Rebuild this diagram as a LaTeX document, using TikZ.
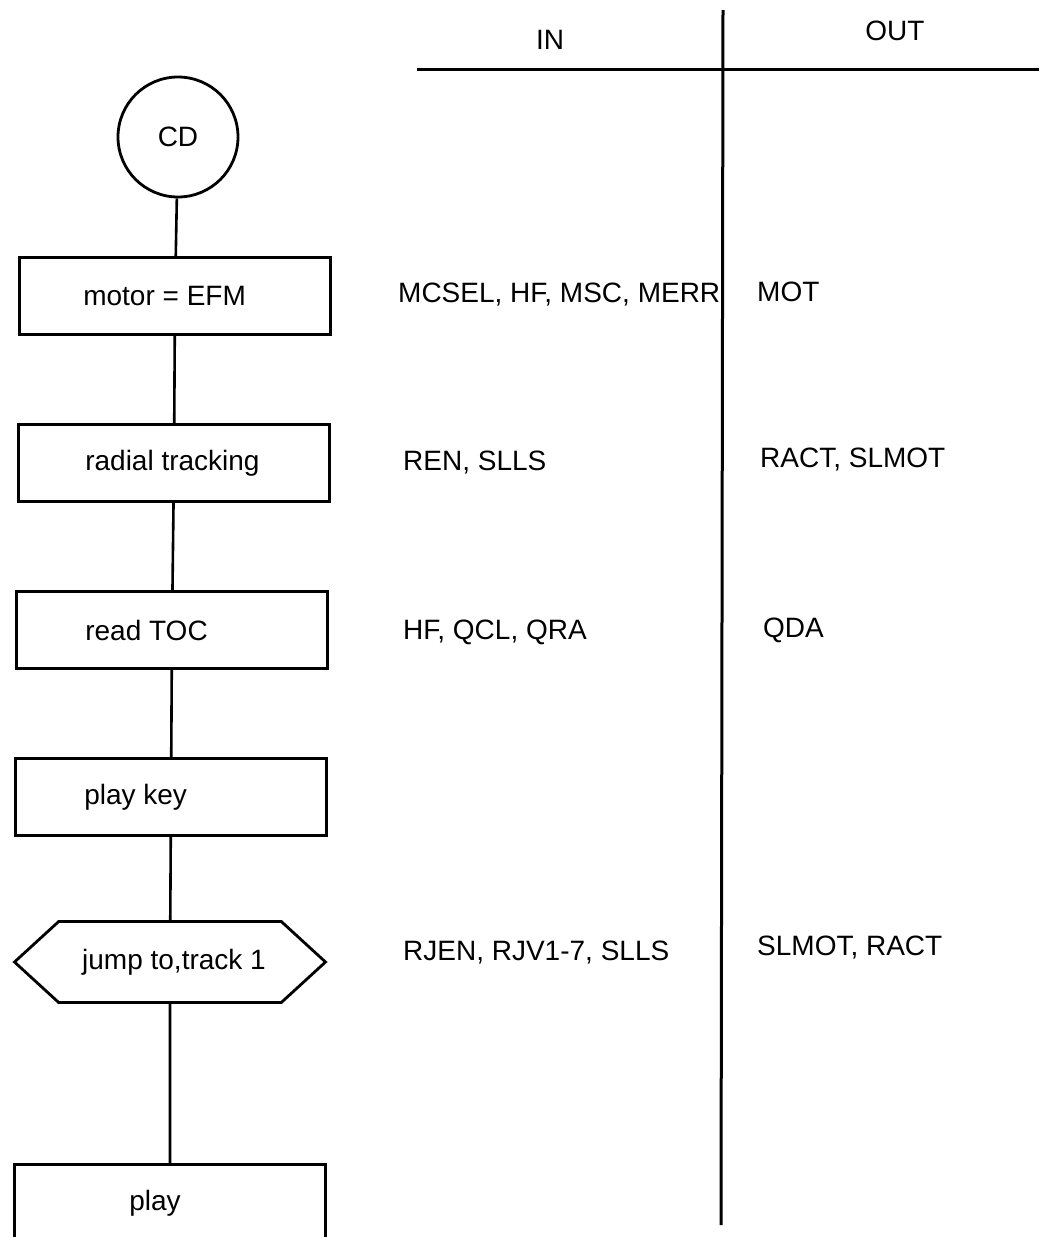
\documentclass[tikz,border=0pt]{standalone}
\usepackage{fontspec}
\setmainfont{Liberation Sans}
\usetikzlibrary{positioning, shapes.symbols}
\tikzset{
  sbox/.style={rectangle, draw, line width=2.8pt, minimum width=311pt,
               minimum height=77pt, inner sep=0pt},
  hexbox/.style={signal, signal to=west and east, signal pointer angle=85,
                 draw, line width=2.8pt, minimum width=311pt,
                 minimum height=81pt, inner sep=0pt,
                 font=\fontsize{28}{34}\selectfont},
  ring/.style={circle, draw, line width=2.8pt, minimum size=120pt,
               inner sep=0pt, font=\fontsize{28}{34}\selectfont},
  lbl/.style={anchor=west, inner sep=0pt, font=\fontsize{28}{34}\selectfont},
  head/.style={inner sep=0pt, font=\fontsize{28}{34}\selectfont},
  link/.style={line width=2.6pt},
  rule/.style={line width=3pt},
}

\begin{document}
\begin{tikzpicture}[x=1pt, y=-1pt]
  \useasboundingbox (0,0) rectangle (1039,1237);

  % table header
  \node[head] (hin) at (550,40) {IN};
  \node[head] (hout) at (895,31) {OUT};
  \draw[rule] (417,69) -- (1039,69);
  \draw[rule] (723,10) -- (721,1225);

  % flow chart
  \node[ring] (cd) at (178,137) {CD};

  \node[sbox] (motor) at (175,296) {};
  \node[lbl] (motor-t) at ([xshift=65]motor.west) {motor = EFM};

  \node[sbox] (radial) at (174,463) {};
  \node[lbl] (radial-t) at ([xshift=68]radial.west) {radial tracking};

  \node[sbox] (toc) at (172,630) {};
  \node[lbl] (toc-t) at ([xshift=70]toc.west) {read TOC};

  \node[sbox] (key) at (171,797) {};
  \node[lbl] (key-t) at ([xshift=70]key.west) {play key};

  \node[hexbox] (jump) at (170,962) {\hspace{8pt}jump to,track 1};

  \node[sbox] (play) at (170,1203) {};
  \node[lbl] (play-t) at ([xshift=116]play.west) {play};

  \draw[link] (cd) -- (motor);
  \draw[link] (motor) -- (radial);
  \draw[link] (radial) -- (toc);
  \draw[link] (toc) -- (key);
  \draw[link] (key) -- (jump);
  \draw[link] (jump) -- (play);

  % signals
  \node[lbl] (in1) at (398,295) {MCSEL, HF, MSC, MERR};
  \node[lbl] (out1) at (757,292) {MOT};
  \node[lbl] (in2) at (403,463) {REN, SLLS};
  \node[lbl] (out2) at (760,460) {RACT, SLMOT};
  \node[lbl] (in3) at (403,632) {HF, QCL, QRA};
  \node[lbl] (out3) at (763,630) {QDA};
  \node[lbl] (in4) at (403,953) {RJEN, RJV1-7, SLLS};
  \node[lbl] (out4) at (757,948) {SLMOT, RACT};
\end{tikzpicture}
\end{document}
